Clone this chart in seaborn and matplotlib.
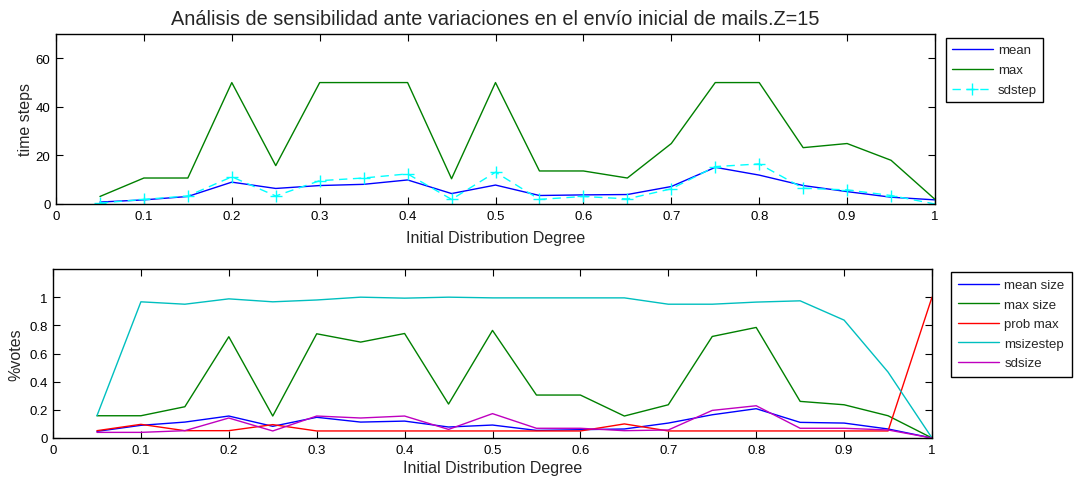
import numpy as np
import pandas as pd
import matplotlib
matplotlib.use("Agg")
import matplotlib.pyplot as plt
import seaborn as sns

# Initial distribution degree (x axis shared by both panels)
degree = [0.05, 0.10, 0.15, 0.20, 0.25, 0.30, 0.35, 0.40, 0.45, 0.50,
          0.55, 0.60, 0.65, 0.70, 0.75, 0.80, 0.85, 0.90, 0.95, 1.00]

# Time steps panel
mean_steps = [0.8, 1.7, 3.1, 9.0, 6.4, 7.6, 8.1, 9.9, 4.3, 7.8,
              3.5, 3.75, 3.9, 7.2, 15.1, 11.9, 7.6, 5.1, 2.8, 1.7]
max_steps = [3.1, 10.7, 10.7, 50.0, 15.8, 50.0, 50.0, 50.0, 10.4, 50.0,
             13.6, 13.6, 10.7, 24.9, 50.0, 50.0, 23.2, 24.9, 18.0, 1.9]
sd_steps = [0.4, 1.9, 3.3, 11.2, 3.3, 9.6, 10.7, 12.4, 1.9, 13.1,
            1.9, 3.1, 2.1, 6.25, 15.4, 16.5, 6.5, 5.8, 3.5, 0.0]

# Votes panel
mean_size = [0.047, 0.090, 0.113, 0.156, 0.083, 0.147, 0.113, 0.120, 0.078, 0.092,
             0.054, 0.059, 0.064, 0.106, 0.165, 0.208, 0.111, 0.106, 0.064, 0.0]
max_size = [0.158, 0.158, 0.222, 0.719, 0.156, 0.740, 0.681, 0.742, 0.241, 0.764,
            0.305, 0.305, 0.156, 0.236, 0.721, 0.785, 0.260, 0.236, 0.158, 0.0]
prob_max = [0.052, 0.097, 0.052, 0.052, 0.095, 0.050, 0.050, 0.050, 0.050, 0.050,
            0.050, 0.050, 0.100, 0.050, 0.050, 0.050, 0.050, 0.050, 0.050, 1.0]
msize_step = [0.158, 0.967, 0.950, 0.988, 0.967, 0.980, 1.000, 0.993, 1.000, 0.995,
              0.995, 0.995, 0.995, 0.950, 0.950, 0.965, 0.974, 0.837, 0.468, 0.0]
sd_size = [0.040, 0.040, 0.052, 0.142, 0.050, 0.156, 0.142, 0.156, 0.061, 0.173,
           0.069, 0.069, 0.052, 0.057, 0.196, 0.229, 0.069, 0.069, 0.057, 0.0]

xticks = [0, 0.1, 0.2, 0.3, 0.4, 0.5, 0.6, 0.7, 0.8, 0.9, 1]
xticklabels = ["0", "0.1", "0.2", "0.3", "0.4", "0.5", "0.6", "0.7", "0.8", "0.9", "1"]
top_yticks = [0, 20, 40, 60]
bot_yticks = [0, 0.2, 0.4, 0.6, 0.8, 1]
bot_yticklabels = ["0", "0.2", "0.4", "0.6", "0.8", "1"]

sns.set_theme(style="white")
plt.rcParams["font.family"] = ["Liberation Sans", "DejaVu Sans"]
plt.rcParams["xtick.direction"] = "in"
plt.rcParams["ytick.direction"] = "in"

W, H = 1077, 481
fig = plt.figure(figsize=(W / 100, H / 100), dpi=100)
fig.patch.set_facecolor("white")


def axes_px(left, top, right, bottom):
    return fig.add_axes([left / W, 1 - bottom / H, (right - left) / W, (bottom - top) / H])


def style_axes(ax, xlabelpad):
    for s in ax.spines.values():
        s.set_visible(True)
        s.set_color("black")
        s.set_linewidth(1.0)
    ax.tick_params(axis="both", which="both", direction="in", length=5, width=0.8,
                   top=True, right=True, bottom=True, left=True,
                   labelsize=9.5, colors="black", pad=4)
    ax.set_xlim(0, 1)
    ax.set_xticks(xticks)
    ax.set_xticklabels(xticklabels)
    ax.set_xlabel("Initial Distribution Degree", fontsize=11.5, labelpad=xlabelpad)
    ax.grid(False)


def boxed_legend(ax, x_px, y_px, spacing, pad):
    leg = ax.legend(loc="upper left", bbox_to_anchor=(x_px / W, 1 - y_px / H),
                    bbox_transform=fig.transFigure, borderaxespad=0, fontsize=9.5,
                    frameon=True, fancybox=False, edgecolor="black", framealpha=1,
                    handlelength=3.1, handletextpad=0.4, labelspacing=spacing,
                    borderpad=pad, numpoints=1)
    leg.get_frame().set_linewidth(1.0)
    return leg


# ---- time steps panel ----
ax1 = axes_px(56, 35, 935, 205)
top_df = pd.DataFrame({"degree": degree, "mean": mean_steps,
                       "max": max_steps, "sdstep": sd_steps})
sns.lineplot(data=top_df, x="degree", y="mean", ax=ax1, color="#0000ff",
             lw=1.0, label="mean")
sns.lineplot(data=top_df, x="degree", y="max", ax=ax1, color="#008000",
             lw=1.0, label="max")
sns.lineplot(data=top_df, x="degree", y="sdstep", ax=ax1, color="#00ffff",
             lw=1.0, label="sdstep", marker="+", markersize=8, markeredgewidth=1.0,
             markeredgecolor="#00ffff", linestyle=(0, (6, 4)))
style_axes(ax1, 6)
ax1.set_ylim(0, 70)
ax1.set_yticks(top_yticks)
ax1.set_yticklabels([str(v) for v in top_yticks])
ax1.set_ylabel("time steps", fontsize=11.5, labelpad=2)
ax1.set_title("Análisis de sensibilidad ante variaciones en el envío inicial de mails.Z=15",
              fontsize=14.3, pad=7)
boxed_legend(ax1, 946, 39, 0.6, 0.45)

# ---- votes panel ----
ax2 = axes_px(53, 270, 932, 439)
bot_df = pd.DataFrame({"degree": degree, "mean size": mean_size, "max size": max_size,
                       "prob max": prob_max, "msizestep": msize_step, "sdsize": sd_size})
series = [("mean size", "#0000ff"), ("max size", "#008000"), ("prob max", "#ff0000"),
          ("msizestep", "#00bfbf"), ("sdsize", "#bf00bf")]
for name, col in series:
    sns.lineplot(data=bot_df, x="degree", y=name, ax=ax2, color=col, lw=1.0, label=name)
style_axes(ax2, 3)
ax2.set_ylim(0, 1.2)
ax2.set_yticks(bot_yticks)
ax2.set_yticklabels(bot_yticklabels)
ax2.set_ylabel("%votes", fontsize=11.5, labelpad=4)
boxed_legend(ax2, 951, 273, 0.55, 0.55)

fig.savefig("out.png", dpi=100, facecolor="white")
